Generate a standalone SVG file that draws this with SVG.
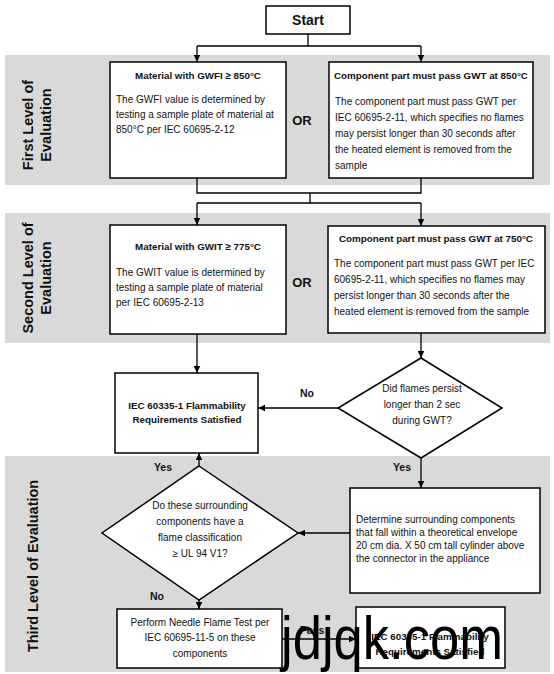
<svg xmlns="http://www.w3.org/2000/svg" width="554" height="674" viewBox="0 0 554 674">
<style>
text{font-family:"Liberation Sans",Arial,sans-serif;fill:#111}
.t{font-size:10px}
.b{font-size:9.8px;font-weight:bold}
.lbl{font-size:14.5px;font-weight:bold}
.or{font-size:13px;font-weight:bold}
.yn{font-size:10.5px;font-weight:bold}
.c{text-anchor:middle}
.box{fill:#fff;stroke:#000;stroke-width:1.5}
.band{fill:#d9d9d9}
.ln{fill:none;stroke:#000;stroke-width:1.3}
</style>
<defs>
<marker id="ah" markerWidth="8" markerHeight="8" refX="7" refY="4" orient="auto" markerUnits="userSpaceOnUse">
<path d="M0,0.8 L7,4 L0,7.2 Z" fill="#000"/>
</marker>
</defs>
<g id="bands">
<rect class="band" x="5" y="55" width="545" height="130"/>
<rect class="band" x="5" y="213" width="545" height="130"/>
<rect class="band" x="5" y="456" width="545" height="216"/>
<text class="lbl c" transform="translate(33,125) rotate(-90)">First Level of</text>
<text class="lbl c" transform="translate(51,125) rotate(-90)">Evaluation</text>
<text class="lbl c" transform="translate(33,278) rotate(-90)">Second Level of</text>
<text class="lbl c" transform="translate(51,278) rotate(-90)">Evaluation</text>
<text class="lbl c" transform="translate(38,566) rotate(-90)">Third Level of Evaluation</text>
<text class="or c" x="302" y="125">OR</text>
<text class="or c" x="302" y="287">OR</text>
</g>
<g id="connectors">
<path class="ln" d="M308,34 V46 M197,46 H421"/>
<path class="ln" d="M197,46 V62" marker-end="url(#ah)"/>
<path class="ln" d="M421,46 V62" marker-end="url(#ah)"/>
<path class="ln" d="M197,178 V193 H421 V178 M310,193 V203 M197,203 H421"/>
<path class="ln" d="M197,203 V225" marker-end="url(#ah)"/>
<path class="ln" d="M421,203 V226" marker-end="url(#ah)"/>
<path class="ln" d="M197,334 V373" marker-end="url(#ah)"/>
<path class="ln" d="M421,333 V358" marker-end="url(#ah)"/>
<path class="ln" d="M338,408 H258" marker-end="url(#ah)"/>
<path class="ln" d="M421,458 V488" marker-end="url(#ah)"/>
<path class="ln" d="M350,533 H298" marker-end="url(#ah)"/>
<path class="ln" d="M199,466 V453" marker-end="url(#ah)"/>
<path class="ln" d="M199,600 V609" marker-end="url(#ah)"/>
<path class="ln" d="M282,639 H356" marker-end="url(#ah)"/>
<text class="yn c" x="307" y="397">No</text>
<text class="yn c" x="163" y="471">Yes</text>
<text class="yn c" x="402" y="471">Yes</text>
<text class="yn c" x="157" y="600">No</text>
<text class="yn c" x="312" y="634">Pass</text>
</g>
<g id="start">
<rect class="box" x="266" y="6" width="84" height="28"/>
<text class="c" x="308" y="25" style="font-size:14px;font-weight:bold">Start</text>
</g>
<g id="gwfi">
<rect class="box" x="110" y="62" width="176" height="116"/>
<text class="b c" x="198" y="79">Material with GWFI ≥ 850°C</text>
<text class="t" x="116" y="103">The GWFI value is determined by</text>
<text class="t" x="116" y="118">testing a sample plate of material at</text>
<text class="t" x="116" y="133">850°C per IEC 60695-2-12</text>
</g>
<g id="gwt850">
<rect class="box" x="329" y="62" width="204" height="116"/>
<text class="b c" x="431" y="79">Component part must pass GWT at 850°C</text>
<text class="t" x="335" y="105">The component part must pass GWT per</text>
<text class="t" x="335" y="121">IEC 60695-2-11, which specifies no flames</text>
<text class="t" x="335" y="137">may persist longer than 30 seconds after</text>
<text class="t" x="335" y="153">the heated element is removed from the</text>
<text class="t" x="335" y="169">sample</text>
</g>
<g id="gwit">
<rect class="box" x="110" y="225" width="176" height="109"/>
<text class="b c" x="198" y="250">Material with GWIT ≥ 775°C</text>
<text class="t" x="116" y="276">The GWIT value is determined by</text>
<text class="t" x="116" y="291">testing a sample plate of material</text>
<text class="t" x="116" y="306">per IEC 60695-2-13</text>
</g>
<g id="gwt750">
<rect class="box" x="328" y="226" width="217" height="107"/>
<text class="b c" x="436" y="242">Component part must pass GWT at 750°C</text>
<text class="t" x="334" y="267">The component part must pass GWT per IEC</text>
<text class="t" x="334" y="283">60695-2-11, which specifies no flames may</text>
<text class="t" x="334" y="299">persist longer than 30 seconds after the</text>
<text class="t" x="334" y="315">heated element is removed from the sample</text>
</g>
<g id="satisfied1">
<rect class="box" x="115" y="373" width="143" height="80"/>
<text class="b c" x="187" y="409">IEC 60335-1 Flammability</text>
<text class="b c" x="187" y="423">Requirements Satisfied</text>
</g>
<g id="flames">
<polygon class="box" points="421,358 502,408 421,458 338,408"/>
<text class="t c" x="422" y="392">Did flames persist</text>
<text class="t c" x="422" y="408">longer than 2 sec</text>
<text class="t c" x="422" y="424">during GWT?</text>
</g>
<g id="classification">
<polygon class="box" points="199,466 298,533 199,600 102,533"/>
<text class="t c" x="200" y="509">Do these surrounding</text>
<text class="t c" x="200" y="525">components have a</text>
<text class="t c" x="200" y="541">flame classification</text>
<text class="t c" x="200" y="557">≥  UL 94 V1?</text>
</g>
<g id="determine">
<rect class="box" x="350" y="488" width="190" height="105"/>
<text class="t" x="356" y="523">Determine surrounding components</text>
<text class="t" x="356" y="536">that fall within a theoretical envelope</text>
<text class="t" x="356" y="549">20 cm dia. X 50 cm tall cylinder above</text>
<text class="t" x="356" y="562">the connector in the appliance</text>
</g>
<g id="needle">
<rect class="box" x="117" y="609" width="165" height="59"/>
<text class="t c" x="200" y="626">Perform Needle Flame Test per</text>
<text class="t c" x="200" y="641">IEC 60695-11-5 on these</text>
<text class="t c" x="200" y="657">components</text>
</g>
<g id="satisfied2">
<rect class="box" x="356" y="607" width="149" height="61"/>
<text class="b c" x="430" y="640">IEC 60335-1 Flammability</text>
<text class="b c" x="430" y="655">Requirements Satisfied</text>
</g>
<g id="watermark">
<text x="281" y="659" textLength="222" lengthAdjust="spacingAndGlyphs" style="font-size:62px;fill:#000">jdjqk.com</text>
</g>
</svg>
